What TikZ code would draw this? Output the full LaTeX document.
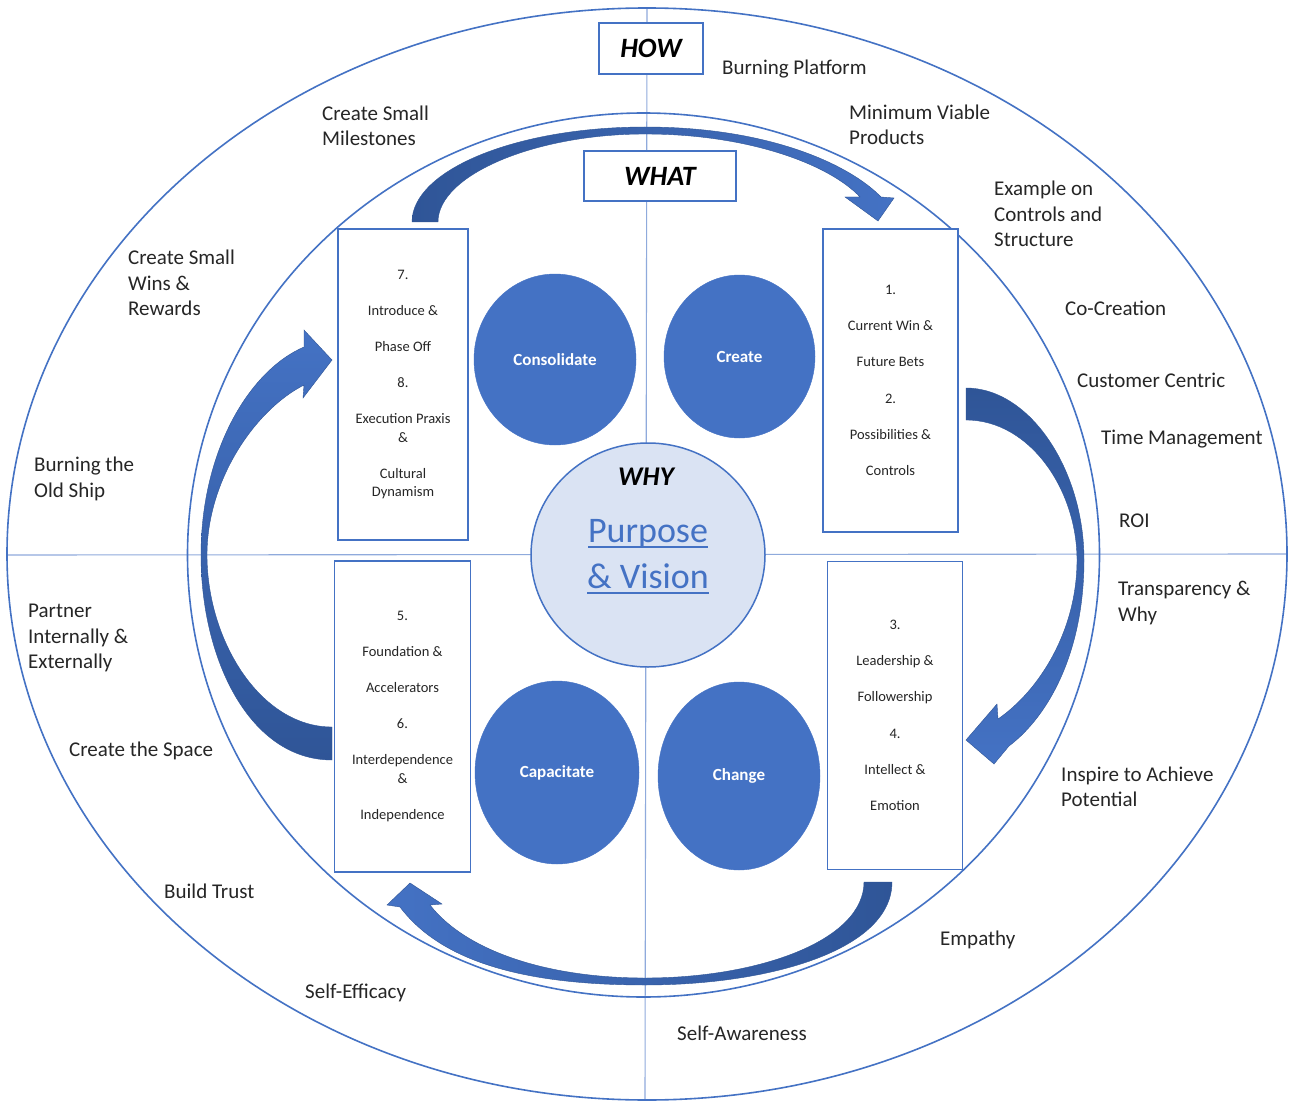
\documentclass[tikz,border=0pt]{standalone}
\usepackage{fontspec}
\setmainfont{Carlito}
\usetikzlibrary{shapes.geometric}
\definecolor{oblue}{HTML}{4472C4}
\definecolor{odark}{HTML}{2F5597}
\definecolor{olight}{HTML}{DAE3F3}
\definecolor{ogrid}{HTML}{8FAADC}
\definecolor{otext}{HTML}{262626}
\newcommand{\pvul}[1]{\setbox0\hbox{#1}\rlap{\rule[-5.5pt]{\wd0}{1.6pt}}\box0}
\begin{document}
\begin{tikzpicture}[x=1pt,y=-1pt,
  lbl/.style={font=\fontsize{21}{25.5}\selectfont, text=otext, align=left, inner sep=0, anchor=west},
  boxtxt/.style={draw=oblue, line width=1.5pt, fill=white, font=\fontsize{14.5}{18.5}\selectfont, text=otext, align=center, inner sep=0},
  disc/.style={ellipse, fill=oblue, draw=oblue, inner sep=0, text=white, font=\bfseries\fontsize{17}{20}\selectfont},
  hdr/.style={draw=oblue, line width=1.5pt, fill=white, font=\bfseries\itshape\fontsize{28}{32}\selectfont, inner sep=0},
  ring/.style={draw=oblue, line width=1.6pt},
  grid/.style={draw=ogrid, line width=1.1pt},
  bigarrow/.style={draw=odark, line width=0.4pt}
]
\useasboundingbox (0,0) rectangle (1293,1102);
\fill[white] (0,0) rectangle (1293,1102);

% cross lines
\coordinate (vt) at (647,8);
\coordinate (vb) at (645,1100);
\coordinate (hl) at (8,555);
\coordinate (hr) at (1287,554);
\draw[grid] (vt) -- (vb);
\draw[grid] (hl) -- (hr);

% ellipses
\draw[ring] (647,554) ellipse [x radius=640pt, y radius=546pt];
\draw[ring] (643.5,555) ellipse [x radius=456pt, y radius=442pt];

% curved arrows
% top (tail left, head right)
\shadedraw[bigarrow, left color=odark, right color=oblue]
  (412,222) .. controls (412,170) and (516,127) .. (645,127)
  .. controls (770,127) and (850,165) .. (881,197)
  -- (894,198) -- (878,221) -- (845,197) -- (860,197)
  .. controls (830,165) and (750,134) .. (645,134)
  .. controls (535,134) and (438,175) .. (438,222) -- cycle;
% right (tail top, head bottom-left)
\shadedraw[bigarrow, top color=odark, bottom color=oblue]
  (966,388) .. controls (1030,388) and (1084,470) .. (1084,560)
  .. controls (1084,650) and (1050,715) .. (1009,746)
  -- (994,764) -- (966,740) -- (997,704) -- (998,719)
  .. controls (1040,690) and (1077,630) .. (1077,560)
  .. controls (1077,490) and (1030,420) .. (966,420) -- cycle;
% bottom (tail right, head left)
\shadedraw[bigarrow, left color=oblue, right color=odark]
  (892,882) .. controls (892,950) and (770,985) .. (645,985)
  .. controls (520,985) and (440,960) .. (400,907)
  -- (387,905) -- (410,883) -- (442,904) -- (430,905)
  .. controls (465,950) and (545,978) .. (645,978)
  .. controls (760,978) and (864,940) .. (864,882) -- cycle;
% left (tail bottom, head top-right)
\shadedraw[bigarrow, top color=oblue, bottom color=odark]
  (332,760) .. controls (250,760) and (201,660) .. (201,555)
  .. controls (201,450) and (250,370) .. (304,347)
  -- (304,330) -- (332,360) -- (303,398) -- (304,385)
  .. controls (255,410) and (207,480) .. (207,555)
  .. controls (207,640) and (260,727) .. (332,727) -- cycle;

% header boxes
\node[hdr, minimum width=104pt, minimum height=51pt] (how) at (651,48.5) {HOW};
\node[hdr, minimum width=152pt, minimum height=50pt] (what) at (660,176) {WHAT};

% text boxes
\node[boxtxt, minimum width=130pt, minimum height=311pt] (b78) at (403,384.5)
  {7.\\[17.5pt]Introduce \&\\[17.5pt]Phase Off\\[18pt]8.\\[17.5pt]Execution Praxis\\\&\\[17.5pt]Cultural\\Dynamism};
\node[boxtxt, minimum width=135pt, minimum height=303pt] (b12) at (890.5,380.5)
  {1.\\[17.5pt]Current Win \&\\[17.5pt]Future Bets\\[18pt]2.\\[17.5pt]Possibilities \&\\[17.5pt]Controls};
\node[boxtxt, minimum width=136pt, minimum height=311pt] (b56) at (402.5,716.5)
  {5.\\[17.5pt]Foundation \&\\[17.5pt]Accelerators\\[18pt]6.\\[17.5pt]Interdependence\\\&\\[17.5pt]Independence};
\node[boxtxt, minimum width=135pt, minimum height=308pt] (b34) at (895,715.5)
  {3.\\[17.5pt]Leadership \&\\[17.5pt]Followership\\[18pt]4.\\[17.5pt]Intellect \&\\[17.5pt]Emotion};

% discs
\node[disc, minimum width=162pt, minimum height=171pt] (cons) at (555,359.5) {Consolidate};
\node[disc, minimum width=151pt, minimum height=163pt] (crea) at (739.5,356.5) {Create};
\node[disc, minimum width=164pt, minimum height=183pt] (capa) at (557,772.5) {Capacitate};
\node[disc, minimum width=162pt, minimum height=188pt] (chan) at (739,776) {Change};

% centre
\node[ellipse, fill=olight, draw=oblue, line width=1.5pt, minimum width=234pt, minimum height=224pt, inner sep=0] (why) at (648,555) {};
\node[font=\bfseries\itshape\fontsize{27}{30}\selectfont, text=black, inner sep=0] (whyt) at (646,477) {WHY};
\node[font=\fontsize{36}{40}\selectfont, text=oblue, inner sep=0, anchor=base] (pur) at (648,542) {\pvul{Purpose}};
\node[font=\fontsize{36}{40}\selectfont, text=oblue, inner sep=0, anchor=base] (vis) at (648,588) {\pvul{\& Vision}};

% ring labels
\node[lbl, anchor=base west] (l1) at (722,75) {Burning Platform};
\node[lbl] (l2) at (322,126) {Create Small\\Milestones};
\node[lbl] (l3) at (849,125) {Minimum Viable\\Products};
\node[lbl] (l4) at (994,214) {Example on\\Controls and\\Structure};
\node[lbl] (l5) at (128,283) {Create Small\\Wins \&\\Rewards};
\node[lbl] (l6) at (1065,308) {Co-Creation};
\node[lbl] (l7) at (1077,380) {Customer Centric};
\node[lbl] (l8) at (1101,439) {Time Management};
\node[lbl] (l9) at (34,479) {Burning the\\Old Ship};
\node[lbl] (l10) at (1119,521) {ROI};
\node[lbl] (l11) at (1118,603) {Transparency \&\\Why};
\node[lbl] (l12) at (28,638) {Partner\\Internally \&\\Externally};
\node[lbl] (l13) at (69,751) {Create the Space};
\node[lbl] (l14) at (1061,787) {Inspire to Achieve\\Potential};
\node[lbl] (l15) at (164,891) {Build Trust};
\node[lbl] (l16) at (940,940) {Empathy};
\node[lbl] (l17) at (305,993) {Self-Efficacy};
\node[lbl] (l18) at (677,1033) {Self-Awareness};
\end{tikzpicture}
\end{document}
